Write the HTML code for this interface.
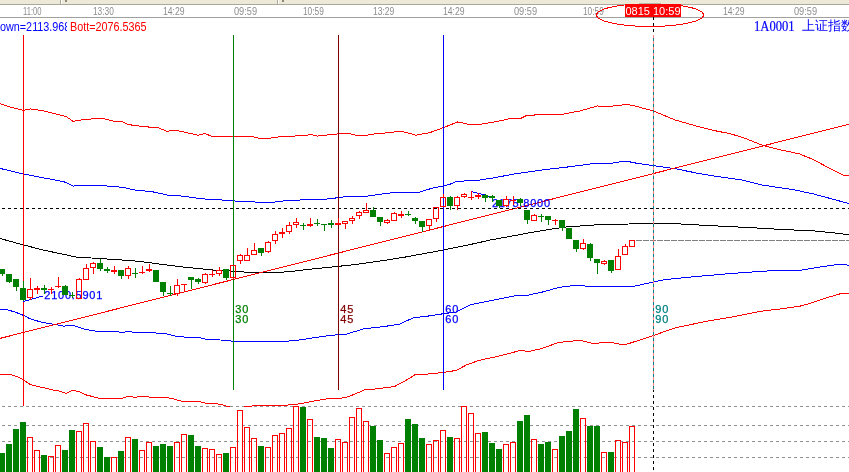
<!DOCTYPE html><html><head><meta charset="utf-8"><title>chart</title><style>
html,body{margin:0;padding:0;background:#fff;}
body{width:849px;height:472px;overflow:hidden;position:relative;font-family:"Liberation Sans","Noto Sans CJK SC",sans-serif;}
#top{position:absolute;left:0;top:0;width:849px;height:4px;background:#ece9d8;border-bottom:1px solid #aca899;}
#top i{position:absolute;top:0;height:4px;width:1px;background:#aca899;border-right:1px solid #fff;}
#top u{position:absolute;top:0;height:2px;width:2px;background:#8a8778;}
#axis{position:absolute;left:0;top:5px;width:849px;height:12px;border-bottom:1px solid #a0a0a0;}
#axis span{position:absolute;top:1px;font-size:10px;line-height:12px;color:#8c8c8c;white-space:nowrap;transform:scaleX(0.9);transform-origin:0 0;}
#cur{position:absolute;left:625px;top:4px;width:56px;height:12px;padding-top:1px;background:#ff0000;color:#fff;font-size:11px;line-height:13px;overflow:hidden;text-align:center;white-space:nowrap;}
#t1{position:absolute;left:0;top:20px;width:67px;height:14px;overflow:hidden;color:#0000ff;font-size:12px;line-height:14px;white-space:nowrap;}
#t1 b,#t2 b{display:inline-block;font-weight:normal;transform:scaleX(0.9);transform-origin:0 0;}
#t2{position:absolute;left:70px;top:20px;color:#ff0000;font-size:12px;line-height:14px;white-space:nowrap;}
#name{position:absolute;left:753px;top:19px;color:#0000ff;font-size:13px;line-height:14px;white-space:nowrap;font-family:"Liberation Serif","WenQuanYi Zen Hei",serif;}
.lb{position:absolute;font-size:11px;line-height:10px;white-space:nowrap;letter-spacing:0.9px;-webkit-text-stroke:0.25px currentColor;}
.pl{position:absolute;font-size:12px;line-height:12px;color:#0000ff;white-space:nowrap;}
svg{position:absolute;left:0;top:0;}
</style></head><body>
<div id="top"><i style="left:60px"></i><i style="left:277px"></i><u style="left:65px"></u><u style="left:282px"></u></div>
<div id="axis">
<span style="left:23px;transform:scaleX(0.76)">11:00</span>
<span style="left:93px;transform:scaleX(0.83)">13:30</span>
<span style="left:163px;transform:scaleX(0.86)">14:29</span>
<span style="left:234px;transform:scaleX(0.92)">09:59</span>
<span style="left:303px;transform:scaleX(0.83)">10:59</span>
<span style="left:373px;transform:scaleX(0.85)">13:29</span>
<span style="left:443px;transform:scaleX(0.86)">14:29</span>
<span style="left:514px;transform:scaleX(0.92)">09:59</span>
<span style="left:583px;transform:scaleX(0.83)">10:59</span>
<span style="left:723px;transform:scaleX(0.86)">14:29</span>
<span style="left:794px;transform:scaleX(0.92)">09:59</span>
</div>
<div id="t1"><b>own=2113.968</b></div><div id="t2"><b>Bott=2076.5365</b></div>
<div id="name"><span style="position:absolute;left:1px;top:1px;font-size:14px;display:inline-block;transform:scaleX(0.9);transform-origin:0 0;-webkit-text-stroke:0.2px #0000ff">1A0001</span><span style="position:absolute;left:49px;top:0">上证指数</span></div>
<svg width="849" height="472" viewBox="0 0 849 472" shape-rendering="crispEdges">
<line x1="2" y1="406.5" x2="849" y2="406.5" stroke="#909090" stroke-dasharray="3 3"/>
<line x1="2" y1="425.5" x2="849" y2="425.5" stroke="#909090" stroke-dasharray="3 3"/>
<line x1="2" y1="441.5" x2="849" y2="441.5" stroke="#909090" stroke-dasharray="3 3"/>
<line x1="2" y1="457.5" x2="849" y2="457.5" stroke="#909090" stroke-dasharray="3 3"/>
<defs><clipPath id="mc"><rect x="0" y="18" width="849" height="389"/></clipPath></defs>
<g clip-path="url(#mc)" fill="none" stroke-width="1">
<polyline points="0.0,103.7 11.4,107.5 23.6,110.3 30.5,109.0 40.7,110.3 66.0,116.4 73.0,121.3 84.0,119.5 101.7,118.2 113.0,121.0 122.0,121.3 128.4,124.6 146.0,126.9 157.6,127.4 166.5,131.2 176.7,130.4 188.0,133.0 198.3,135.2 205.0,133.6 211.4,136.1 233.0,136.3 250.8,136.3 259.7,138.4 268.6,138.4 276.3,137.1 301.7,135.6 311.8,134.6 316.9,136.1 338.5,133.8 346.2,133.0 356.3,135.3 367.8,135.1 378.0,133.3 389.4,132.8 400.8,131.0 412.0,134.1 415.8,135.2 429.8,132.6 443.8,127.5 457.8,121.9 467.9,124.2 480.6,124.2 498.4,121.2 508.6,118.9 521.3,118.1 526.4,115.6 544.2,114.3 563.2,114.1 579.8,111.0 597.6,105.9 602.6,106.9 620.0,105.4 625.5,104.2 633.8,105.6 653.6,111.1 675.1,120.0 697.2,126.3 716.4,131.0 730.2,133.7 744.0,137.9 763.3,145.6 782.6,150.3 799.1,153.8 812.9,159.4 829.4,168.2 843.2,175.1 849.0,175.9" stroke="#ff0000"/>
<polyline points="0.0,374.4 10.0,374.4 17.5,376.9 23.7,379.9 30.0,384.4 40.0,386.9 52.4,389.9 59.9,391.1 66.2,393.6 72.4,390.4 78.7,391.6 86.1,394.9 99.9,398.4 122.3,398.4 128.6,396.1 134.8,397.4 142.3,396.1 152.3,397.4 166.0,397.4 172.3,398.6 182.3,401.4 199.8,401.6 206.0,403.4 212.0,403.4 222.0,404.4 227.0,406.6 237.0,408.0 247.0,406.6 256.9,405.4 284.4,405.4 299.4,403.9 311.9,401.4 326.9,398.9 344.3,397.9 354.3,394.4 364.3,389.9 374.3,389.1 394.3,386.6 406.8,379.9 415.5,374.4 424.0,374.4 439.0,372.9 443.5,372.4 456.5,370.4 466.4,364.9 478.9,360.4 498.9,356.1 511.4,352.9 520.1,350.4 528.9,351.4 541.4,348.7 558.8,342.4 573.8,340.9 582.6,340.9 593.8,343.7 603.8,342.4 611.3,342.4 621.3,344.4 626.2,344.4 636.0,341.2 653.9,335.4 674.6,328.0 704.9,321.6 732.4,317.0 760.0,311.4 782.0,308.7 801.3,305.9 815.1,301.8 828.9,297.1 841.3,293.5 849.0,293.3" stroke="#ff0000"/>
<polyline points="0.0,168.4 23.6,174.0 45.8,178.3 63.5,181.6 73.7,186.2 76.3,185.4 103.0,185.4 111.8,186.7 123.3,187.2 132.2,189.7 152.5,191.8 167.8,195.1 177.9,195.6 200.0,198.5 210.2,199.6 233.0,200.4 238.1,201.7 253.4,201.7 259.7,202.7 269.9,202.7 283.9,200.9 301.7,199.9 320.0,199.8 334.8,198.2 338.5,197.2 352.5,196.6 367.8,196.1 378.0,194.6 393.2,192.5 412.0,192.4 418.5,192.5 426.5,189.8 434.9,187.6 443.8,186.0 450.1,184.2 457.2,181.2 475.5,180.7 493.3,177.9 513.7,174.1 544.2,169.7 564.5,167.4 595.0,163.4 612.8,163.1 620.0,161.8 626.9,161.3 636.5,163.2 653.6,165.7 675.1,168.7 699.9,173.7 716.4,176.4 741.2,179.8 760.5,184.7 774.3,186.9 793.6,189.7 812.9,193.8 832.2,199.0 849.0,203.6" stroke="#0000ff"/>
<polyline points="0.0,309.5 6.2,309.5 15.0,312.0 23.7,315.5 30.0,318.7 42.4,322.5 53.7,324.2 63.7,326.2 72.4,325.2 84.9,329.2 97.4,331.5 117.4,331.7 121.1,332.5 128.6,331.5 134.8,332.5 152.3,332.7 167.3,334.0 177.3,336.5 189.8,337.5 199.8,337.7 207.2,339.5 212.0,339.5 227.0,340.4 233.2,341.4 284.4,341.4 299.4,340.0 311.9,338.0 329.4,335.5 346.8,334.0 364.3,328.7 384.3,326.5 399.3,324.2 414.2,317.5 424.0,316.7 443.5,313.7 456.5,311.9 471.4,304.5 493.9,300.0 516.4,295.5 528.9,295.0 543.9,291.7 558.8,287.5 573.8,285.5 583.8,285.5 587.5,286.7 631.2,286.7 636.0,285.8 653.9,282.0 663.6,279.8 691.1,277.0 732.4,273.4 768.3,270.9 801.3,270.1 823.4,266.5 841.3,264.0 849.0,265.4" stroke="#0000ff"/>
<polyline points="0.0,238.5 20.0,244.0 43.0,250.0 76.0,257.0 99.0,258.5 130.0,260.5 140.0,261.5 179.5,266.6 212.5,270.0 233.5,271.2 255.0,272.8 270.0,272.8 278.0,272.6 293.0,271.2 308.0,269.4 322.0,268.0 338.7,266.3 355.7,264.5 369.8,262.4 385.7,260.2 405.0,257.1 424.5,253.5 443.5,250.0 475.0,243.5 490.6,239.9 512.5,236.0 530.0,232.7 552.0,229.0 566.4,227.0 579.8,226.0 593.8,225.0 628.7,224.0 636.0,223.8 653.9,223.3 677.3,223.8 707.6,225.5 746.2,227.4 779.3,229.3 815.1,231.0 834.4,232.9 849.0,234.8" stroke="#000"/>
<line x1="0" y1="338.4" x2="849" y2="124.2" stroke="#ff0000"/>
</g>
<line x1="2" y1="208.5" x2="849" y2="208.5" stroke="#000" stroke-dasharray="3 3"/>
<line x1="636" y1="240.5" x2="849" y2="240.5" stroke="#808080" stroke-dasharray="6 1"/>
<line x1="23.5" y1="35" x2="23.5" y2="406" stroke="#ff0000"/>
<line x1="233.5" y1="35" x2="233.5" y2="390" stroke="#008000"/>
<line x1="338.5" y1="35" x2="338.5" y2="390" stroke="#800000"/>
<line x1="443.5" y1="35" x2="443.5" y2="390" stroke="#0000ff"/>
<line x1="653.5" y1="17" x2="653.5" y2="472" stroke="#000" stroke-dasharray="3 3"/>
<line x1="653.5" y1="35" x2="653.5" y2="390" stroke="#008080"/>
<line x1="653.5" y1="35" x2="653.5" y2="390" stroke="#ff8080" stroke-dasharray="3 3"/>
<text x="44.3" y="299" font-size="11" letter-spacing="0.75" fill="#0000ff" stroke="#0000ff" stroke-width="0.25" font-family="Liberation Sans, sans-serif">2100.5901</text>
<text x="492" y="207" font-size="11" letter-spacing="0.75" fill="#0000ff" stroke="#0000ff" stroke-width="0.25" font-family="Liberation Sans, sans-serif">2175.8000</text>
<line x1="23.5" y1="301.5" x2="43" y2="296" stroke="#0000ff"/>
<line x1="471.5" y1="191.5" x2="492" y2="197" stroke="#0000ff"/>
<rect x="2" y="269" width="1" height="7" fill="#008000"/>
<rect x="-1" y="269" width="6" height="5" fill="#008000"/>
<rect x="9" y="274" width="1" height="9" fill="#008000"/>
<rect x="6" y="274" width="6" height="8" fill="#008000"/>
<rect x="16" y="279" width="1" height="12" fill="#008000"/>
<rect x="13" y="279" width="6" height="8" fill="#008000"/>
<rect x="23" y="281" width="1" height="20" fill="#008000"/>
<rect x="20" y="288" width="6" height="12" fill="#008000"/>
<rect x="30" y="278" width="1" height="11" fill="#ff0000"/>
<rect x="30" y="298" width="1" height="2" fill="#ff0000"/>
<rect x="27.5" y="289.5" width="5" height="8" fill="none" stroke="#ff0000"/>
<rect x="37" y="286" width="1" height="8" fill="#ff0000"/>
<rect x="34" y="288" width="6" height="2" fill="#ff0000"/>
<rect x="44" y="285" width="1" height="9" fill="#008000"/>
<rect x="41" y="288" width="6" height="2" fill="#008000"/>
<rect x="51" y="287" width="1" height="7" fill="#ff0000"/>
<rect x="48" y="289" width="6" height="1" fill="#ff0000"/>
<rect x="58" y="277" width="1" height="11" fill="#ff0000"/>
<rect x="55" y="286" width="6" height="1" fill="#ff0000"/>
<rect x="65" y="285" width="1" height="10" fill="#008000"/>
<rect x="62" y="286" width="6" height="9" fill="#008000"/>
<rect x="72" y="292" width="1" height="6" fill="#008000"/>
<rect x="69" y="295" width="6" height="1" fill="#008000"/>
<rect x="79" y="278" width="1" height="1" fill="#ff0000"/>
<rect x="76.5" y="279.5" width="5" height="19" fill="none" stroke="#ff0000"/>
<rect x="86" y="264" width="1" height="4" fill="#ff0000"/>
<rect x="83.5" y="268.5" width="5" height="11" fill="none" stroke="#ff0000"/>
<rect x="93" y="262" width="1" height="1" fill="#ff0000"/>
<rect x="93" y="268" width="1" height="6" fill="#ff0000"/>
<rect x="90.5" y="263.5" width="5" height="4" fill="none" stroke="#ff0000"/>
<rect x="100" y="259" width="1" height="12" fill="#008000"/>
<rect x="97" y="263" width="6" height="6" fill="#008000"/>
<rect x="107" y="267" width="1" height="6" fill="#008000"/>
<rect x="104" y="269" width="6" height="2" fill="#008000"/>
<rect x="114" y="266" width="1" height="8" fill="#ff0000"/>
<rect x="111" y="270" width="6" height="2" fill="#ff0000"/>
<rect x="121" y="270" width="1" height="9" fill="#008000"/>
<rect x="118" y="270" width="6" height="6" fill="#008000"/>
<rect x="128" y="266" width="1" height="2" fill="#ff0000"/>
<rect x="128" y="276" width="1" height="3" fill="#ff0000"/>
<rect x="125.5" y="268.5" width="5" height="7" fill="none" stroke="#ff0000"/>
<rect x="135" y="268" width="1" height="10" fill="#008000"/>
<rect x="132" y="273" width="6" height="1" fill="#008000"/>
<rect x="142" y="266" width="1" height="8" fill="#ff0000"/>
<rect x="139" y="272" width="6" height="1" fill="#ff0000"/>
<rect x="149" y="264" width="1" height="8" fill="#ff0000"/>
<rect x="146" y="269" width="6" height="2" fill="#ff0000"/>
<rect x="156" y="270" width="1" height="12" fill="#008000"/>
<rect x="153" y="270" width="6" height="12" fill="#008000"/>
<rect x="163" y="282" width="1" height="14" fill="#008000"/>
<rect x="160" y="282" width="6" height="10" fill="#008000"/>
<rect x="170" y="286" width="1" height="10" fill="#008000"/>
<rect x="167" y="293" width="6" height="1" fill="#008000"/>
<rect x="177" y="279" width="1" height="6" fill="#ff0000"/>
<rect x="177" y="294" width="1" height="2" fill="#ff0000"/>
<rect x="174.5" y="285.5" width="5" height="8" fill="none" stroke="#ff0000"/>
<rect x="184" y="284" width="1" height="8" fill="#ff0000"/>
<rect x="181" y="284" width="6" height="1" fill="#ff0000"/>
<rect x="191" y="277" width="1" height="12" fill="#008000"/>
<rect x="188" y="277" width="6" height="3" fill="#008000"/>
<rect x="198" y="278" width="1" height="6" fill="#008000"/>
<rect x="195" y="279" width="6" height="3" fill="#008000"/>
<rect x="205" y="273" width="1" height="1" fill="#ff0000"/>
<rect x="205" y="283" width="1" height="1" fill="#ff0000"/>
<rect x="202.5" y="274.5" width="5" height="8" fill="none" stroke="#ff0000"/>
<rect x="212" y="270" width="1" height="7" fill="#ff0000"/>
<rect x="209" y="274" width="6" height="1" fill="#ff0000"/>
<rect x="219" y="267" width="1" height="3" fill="#ff0000"/>
<rect x="219" y="274" width="1" height="2" fill="#ff0000"/>
<rect x="216.5" y="270.5" width="5" height="3" fill="none" stroke="#ff0000"/>
<rect x="226" y="269" width="1" height="11" fill="#008000"/>
<rect x="223" y="269" width="6" height="9" fill="#008000"/>
<rect x="233" y="278" width="1" height="1" fill="#ff0000"/>
<rect x="230.5" y="265.5" width="5" height="12" fill="none" stroke="#ff0000"/>
<rect x="240" y="254" width="1" height="1" fill="#ff0000"/>
<rect x="240" y="261" width="1" height="3" fill="#ff0000"/>
<rect x="237.5" y="255.5" width="5" height="5" fill="none" stroke="#ff0000"/>
<rect x="247" y="248" width="1" height="7" fill="#ff0000"/>
<rect x="244.5" y="255.5" width="5" height="5" fill="none" stroke="#ff0000"/>
<rect x="254" y="243" width="1" height="7" fill="#ff0000"/>
<rect x="251.5" y="250.5" width="5" height="4" fill="none" stroke="#ff0000"/>
<rect x="261" y="248" width="1" height="8" fill="#008000"/>
<rect x="258" y="248" width="6" height="5" fill="#008000"/>
<rect x="268" y="241" width="1" height="1" fill="#ff0000"/>
<rect x="268" y="252" width="1" height="1" fill="#ff0000"/>
<rect x="265.5" y="242.5" width="5" height="9" fill="none" stroke="#ff0000"/>
<rect x="275" y="231" width="1" height="3" fill="#ff0000"/>
<rect x="275" y="241" width="1" height="3" fill="#ff0000"/>
<rect x="272.5" y="234.5" width="5" height="6" fill="none" stroke="#ff0000"/>
<rect x="282" y="228" width="1" height="10" fill="#ff0000"/>
<rect x="279" y="232" width="6" height="2" fill="#ff0000"/>
<rect x="289" y="222" width="1" height="3" fill="#ff0000"/>
<rect x="289" y="232" width="1" height="2" fill="#ff0000"/>
<rect x="286.5" y="225.5" width="5" height="6" fill="none" stroke="#ff0000"/>
<rect x="296" y="218" width="1" height="4" fill="#ff0000"/>
<rect x="296" y="225" width="1" height="3" fill="#ff0000"/>
<rect x="293.5" y="222.5" width="5" height="2" fill="none" stroke="#ff0000"/>
<rect x="303" y="223" width="1" height="7" fill="#008000"/>
<rect x="300" y="225" width="6" height="1" fill="#008000"/>
<rect x="310" y="218" width="1" height="9" fill="#ff0000"/>
<rect x="307" y="224" width="6" height="2" fill="#ff0000"/>
<rect x="317" y="219" width="1" height="7" fill="#008000"/>
<rect x="314" y="223" width="6" height="1" fill="#008000"/>
<rect x="324" y="224" width="1" height="7" fill="#008000"/>
<rect x="321" y="224" width="6" height="1" fill="#008000"/>
<rect x="331" y="220" width="1" height="8" fill="#008000"/>
<rect x="328" y="223" width="6" height="2" fill="#008000"/>
<rect x="338" y="218" width="1" height="7" fill="#ff0000"/>
<rect x="335" y="223" width="6" height="2" fill="#ff0000"/>
<rect x="345" y="224" width="1" height="5" fill="#ff0000"/>
<rect x="342.5" y="221.5" width="5" height="2" fill="none" stroke="#ff0000"/>
<rect x="352" y="216" width="1" height="2" fill="#ff0000"/>
<rect x="352" y="221" width="1" height="3" fill="#ff0000"/>
<rect x="349.5" y="218.5" width="5" height="2" fill="none" stroke="#ff0000"/>
<rect x="359" y="211" width="1" height="1" fill="#ff0000"/>
<rect x="359" y="216" width="1" height="3" fill="#ff0000"/>
<rect x="356.5" y="212.5" width="5" height="3" fill="none" stroke="#ff0000"/>
<rect x="366" y="203" width="1" height="7" fill="#ff0000"/>
<rect x="363.5" y="210.5" width="5" height="2" fill="none" stroke="#ff0000"/>
<rect x="373" y="207" width="1" height="10" fill="#008000"/>
<rect x="370" y="210" width="6" height="7" fill="#008000"/>
<rect x="380" y="217" width="1" height="9" fill="#008000"/>
<rect x="377" y="217" width="6" height="5" fill="#008000"/>
<rect x="387" y="219" width="1" height="1" fill="#ff0000"/>
<rect x="387" y="223" width="1" height="1" fill="#ff0000"/>
<rect x="384.5" y="220.5" width="5" height="2" fill="none" stroke="#ff0000"/>
<rect x="394" y="212" width="1" height="1" fill="#ff0000"/>
<rect x="391.5" y="213.5" width="5" height="7" fill="none" stroke="#ff0000"/>
<rect x="401" y="211" width="1" height="7" fill="#ff0000"/>
<rect x="398" y="214" width="6" height="2" fill="#ff0000"/>
<rect x="408" y="211" width="1" height="5" fill="#008000"/>
<rect x="405" y="214" width="6" height="1" fill="#008000"/>
<rect x="415" y="217" width="1" height="7" fill="#008000"/>
<rect x="412" y="218" width="6" height="3" fill="#008000"/>
<rect x="422" y="221" width="1" height="11" fill="#008000"/>
<rect x="419" y="221" width="6" height="6" fill="#008000"/>
<rect x="429" y="226" width="1" height="4" fill="#ff0000"/>
<rect x="426.5" y="219.5" width="5" height="6" fill="none" stroke="#ff0000"/>
<rect x="436" y="219" width="1" height="3" fill="#ff0000"/>
<rect x="433.5" y="207.5" width="5" height="11" fill="none" stroke="#ff0000"/>
<rect x="443" y="194" width="1" height="3" fill="#ff0000"/>
<rect x="440.5" y="197.5" width="5" height="9" fill="none" stroke="#ff0000"/>
<rect x="450" y="196" width="1" height="14" fill="#008000"/>
<rect x="447" y="197" width="6" height="9" fill="#008000"/>
<rect x="457" y="196" width="1" height="1" fill="#ff0000"/>
<rect x="457" y="206" width="1" height="4" fill="#ff0000"/>
<rect x="454.5" y="197.5" width="5" height="8" fill="none" stroke="#ff0000"/>
<rect x="464" y="193" width="1" height="1" fill="#ff0000"/>
<rect x="464" y="197" width="1" height="1" fill="#ff0000"/>
<rect x="461.5" y="194.5" width="5" height="2" fill="none" stroke="#ff0000"/>
<rect x="471" y="191" width="1" height="9" fill="#ff0000"/>
<rect x="468" y="197" width="6" height="1" fill="#ff0000"/>
<rect x="478" y="193" width="1" height="6" fill="#ff0000"/>
<rect x="475" y="195" width="6" height="2" fill="#ff0000"/>
<rect x="485" y="194" width="1" height="8" fill="#008000"/>
<rect x="482" y="195" width="6" height="3" fill="#008000"/>
<rect x="492" y="195" width="1" height="7" fill="#008000"/>
<rect x="489" y="196" width="6" height="2" fill="#008000"/>
<rect x="499" y="200" width="1" height="8" fill="#008000"/>
<rect x="496" y="200" width="6" height="6" fill="#008000"/>
<rect x="506" y="196" width="1" height="3" fill="#ff0000"/>
<rect x="506" y="206" width="1" height="1" fill="#ff0000"/>
<rect x="503.5" y="199.5" width="5" height="6" fill="none" stroke="#ff0000"/>
<rect x="513" y="196" width="1" height="9" fill="#ff0000"/>
<rect x="510" y="200" width="6" height="1" fill="#ff0000"/>
<rect x="520" y="198" width="1" height="8" fill="#008000"/>
<rect x="517" y="199" width="6" height="4" fill="#008000"/>
<rect x="527" y="210" width="1" height="14" fill="#008000"/>
<rect x="524" y="210" width="6" height="10" fill="#008000"/>
<rect x="534" y="214" width="1" height="1" fill="#ff0000"/>
<rect x="531.5" y="215.5" width="5" height="5" fill="none" stroke="#ff0000"/>
<rect x="541" y="214" width="1" height="8" fill="#008000"/>
<rect x="538" y="216" width="6" height="1" fill="#008000"/>
<rect x="548" y="216" width="1" height="9" fill="#008000"/>
<rect x="545" y="216" width="6" height="4" fill="#008000"/>
<rect x="555" y="219" width="1" height="6" fill="#ff0000"/>
<rect x="552" y="220" width="6" height="1" fill="#ff0000"/>
<rect x="562" y="220" width="1" height="11" fill="#008000"/>
<rect x="559" y="220" width="6" height="8" fill="#008000"/>
<rect x="569" y="228" width="1" height="11" fill="#008000"/>
<rect x="566" y="228" width="6" height="11" fill="#008000"/>
<rect x="576" y="240" width="1" height="12" fill="#008000"/>
<rect x="573" y="240" width="6" height="9" fill="#008000"/>
<rect x="583" y="239" width="1" height="4" fill="#ff0000"/>
<rect x="583" y="249" width="1" height="1" fill="#ff0000"/>
<rect x="580.5" y="243.5" width="5" height="5" fill="none" stroke="#ff0000"/>
<rect x="590" y="243" width="1" height="18" fill="#008000"/>
<rect x="587" y="244" width="6" height="14" fill="#008000"/>
<rect x="597" y="259" width="1" height="15" fill="#008000"/>
<rect x="594" y="259" width="6" height="4" fill="#008000"/>
<rect x="604" y="260" width="1" height="1" fill="#ff0000"/>
<rect x="604" y="264" width="1" height="1" fill="#ff0000"/>
<rect x="601.5" y="261.5" width="5" height="2" fill="none" stroke="#ff0000"/>
<rect x="611" y="260" width="1" height="13" fill="#008000"/>
<rect x="608" y="260" width="6" height="11" fill="#008000"/>
<rect x="618" y="249" width="1" height="7" fill="#ff0000"/>
<rect x="615.5" y="256.5" width="5" height="13" fill="none" stroke="#ff0000"/>
<rect x="625" y="244" width="1" height="2" fill="#ff0000"/>
<rect x="622.5" y="246.5" width="5" height="8" fill="none" stroke="#ff0000"/>
<rect x="629.5" y="240.5" width="5" height="6" fill="none" stroke="#ff0000"/>
<rect x="-1" y="453" width="6" height="19" fill="#008000"/>
<rect x="6" y="444" width="6" height="28" fill="#008000"/>
<rect x="13" y="429" width="6" height="43" fill="#008000"/>
<rect x="20" y="422" width="6" height="50" fill="#008000"/>
<rect x="27.5" y="437.5" width="5" height="38" fill="none" stroke="#ff0000"/>
<rect x="34.5" y="450.5" width="5" height="25" fill="none" stroke="#ff0000"/>
<rect x="41" y="455" width="6" height="17" fill="#008000"/>
<rect x="48.5" y="456.5" width="5" height="19" fill="none" stroke="#ff0000"/>
<rect x="55.5" y="445.5" width="5" height="30" fill="none" stroke="#ff0000"/>
<rect x="62" y="450" width="6" height="22" fill="#008000"/>
<rect x="69" y="430" width="6" height="42" fill="#008000"/>
<rect x="76.5" y="431.5" width="5" height="44" fill="none" stroke="#ff0000"/>
<rect x="83.5" y="423.5" width="5" height="52" fill="none" stroke="#ff0000"/>
<rect x="90.5" y="441.5" width="5" height="34" fill="none" stroke="#ff0000"/>
<rect x="97" y="447" width="6" height="25" fill="#008000"/>
<rect x="104" y="457" width="6" height="15" fill="#008000"/>
<rect x="111.5" y="457.5" width="5" height="18" fill="none" stroke="#ff0000"/>
<rect x="118" y="451" width="6" height="21" fill="#008000"/>
<rect x="125.5" y="437.5" width="5" height="38" fill="none" stroke="#ff0000"/>
<rect x="132" y="439" width="6" height="33" fill="#008000"/>
<rect x="139.5" y="450.5" width="5" height="25" fill="none" stroke="#ff0000"/>
<rect x="146.5" y="442.5" width="5" height="33" fill="none" stroke="#ff0000"/>
<rect x="153" y="446" width="6" height="26" fill="#008000"/>
<rect x="160" y="444" width="6" height="28" fill="#008000"/>
<rect x="167" y="446" width="6" height="26" fill="#008000"/>
<rect x="174.5" y="442.5" width="5" height="33" fill="none" stroke="#ff0000"/>
<rect x="181.5" y="434.5" width="5" height="41" fill="none" stroke="#ff0000"/>
<rect x="188" y="435" width="6" height="37" fill="#008000"/>
<rect x="195" y="446" width="6" height="26" fill="#008000"/>
<rect x="202.5" y="448.5" width="5" height="27" fill="none" stroke="#ff0000"/>
<rect x="209.5" y="449.5" width="5" height="26" fill="none" stroke="#ff0000"/>
<rect x="216.5" y="454.5" width="5" height="21" fill="none" stroke="#ff0000"/>
<rect x="223" y="453" width="6" height="19" fill="#008000"/>
<rect x="230.5" y="447.5" width="5" height="28" fill="none" stroke="#ff0000"/>
<rect x="237.5" y="410.5" width="5" height="65" fill="none" stroke="#ff0000"/>
<rect x="244.5" y="427.5" width="5" height="48" fill="none" stroke="#ff0000"/>
<rect x="251.5" y="438.5" width="5" height="37" fill="none" stroke="#ff0000"/>
<rect x="258" y="446" width="6" height="26" fill="#008000"/>
<rect x="265.5" y="447.5" width="5" height="28" fill="none" stroke="#ff0000"/>
<rect x="272.5" y="435.5" width="5" height="40" fill="none" stroke="#ff0000"/>
<rect x="279.5" y="433.5" width="5" height="42" fill="none" stroke="#ff0000"/>
<rect x="286.5" y="428.5" width="5" height="47" fill="none" stroke="#ff0000"/>
<rect x="293.5" y="406.5" width="5" height="69" fill="none" stroke="#ff0000"/>
<rect x="300" y="407" width="6" height="65" fill="#008000"/>
<rect x="307.5" y="419.5" width="5" height="56" fill="none" stroke="#ff0000"/>
<rect x="314" y="437" width="6" height="35" fill="#008000"/>
<rect x="321" y="438" width="6" height="34" fill="#008000"/>
<rect x="328" y="448" width="6" height="24" fill="#008000"/>
<rect x="335.5" y="439.5" width="5" height="36" fill="none" stroke="#ff0000"/>
<rect x="342.5" y="442.5" width="5" height="33" fill="none" stroke="#ff0000"/>
<rect x="349.5" y="417.5" width="5" height="58" fill="none" stroke="#ff0000"/>
<rect x="356.5" y="408.5" width="5" height="67" fill="none" stroke="#ff0000"/>
<rect x="363.5" y="421.5" width="5" height="54" fill="none" stroke="#ff0000"/>
<rect x="370" y="426" width="6" height="46" fill="#008000"/>
<rect x="377" y="440" width="6" height="32" fill="#008000"/>
<rect x="384.5" y="453.5" width="5" height="22" fill="none" stroke="#ff0000"/>
<rect x="391.5" y="447.5" width="5" height="28" fill="none" stroke="#ff0000"/>
<rect x="398.5" y="443.5" width="5" height="32" fill="none" stroke="#ff0000"/>
<rect x="405" y="419" width="6" height="53" fill="#008000"/>
<rect x="412" y="424" width="6" height="48" fill="#008000"/>
<rect x="419" y="438" width="6" height="34" fill="#008000"/>
<rect x="426.5" y="444.5" width="5" height="31" fill="none" stroke="#ff0000"/>
<rect x="433.5" y="440.5" width="5" height="35" fill="none" stroke="#ff0000"/>
<rect x="440.5" y="430.5" width="5" height="45" fill="none" stroke="#ff0000"/>
<rect x="447" y="437" width="6" height="35" fill="#008000"/>
<rect x="454.5" y="438.5" width="5" height="37" fill="none" stroke="#ff0000"/>
<rect x="461.5" y="406.5" width="5" height="69" fill="none" stroke="#ff0000"/>
<rect x="468.5" y="413.5" width="5" height="62" fill="none" stroke="#ff0000"/>
<rect x="475.5" y="433.5" width="5" height="42" fill="none" stroke="#ff0000"/>
<rect x="482" y="432" width="6" height="40" fill="#008000"/>
<rect x="489" y="443" width="6" height="29" fill="#008000"/>
<rect x="496" y="449" width="6" height="23" fill="#008000"/>
<rect x="503.5" y="444.5" width="5" height="31" fill="none" stroke="#ff0000"/>
<rect x="510.5" y="442.5" width="5" height="33" fill="none" stroke="#ff0000"/>
<rect x="517" y="421" width="6" height="51" fill="#008000"/>
<rect x="524" y="415" width="6" height="57" fill="#008000"/>
<rect x="531.5" y="439.5" width="5" height="36" fill="none" stroke="#ff0000"/>
<rect x="538" y="444" width="6" height="28" fill="#008000"/>
<rect x="545" y="442" width="6" height="30" fill="#008000"/>
<rect x="552.5" y="449.5" width="5" height="26" fill="none" stroke="#ff0000"/>
<rect x="559" y="436" width="6" height="36" fill="#008000"/>
<rect x="566" y="431" width="6" height="41" fill="#008000"/>
<rect x="573" y="409" width="6" height="63" fill="#008000"/>
<rect x="580.5" y="418.5" width="5" height="57" fill="none" stroke="#ff0000"/>
<rect x="587" y="426" width="6" height="46" fill="#008000"/>
<rect x="594" y="426" width="6" height="46" fill="#008000"/>
<rect x="601.5" y="452.5" width="5" height="23" fill="none" stroke="#ff0000"/>
<rect x="608" y="452" width="6" height="20" fill="#008000"/>
<rect x="615.5" y="440.5" width="5" height="35" fill="none" stroke="#ff0000"/>
<rect x="622.5" y="442.5" width="5" height="33" fill="none" stroke="#ff0000"/>
<rect x="629.5" y="426.5" width="5" height="49" fill="none" stroke="#ff0000"/>
</svg>
<svg width="849" height="472" viewBox="0 0 849 472" shape-rendering="crispEdges"><defs><clipPath id="ec"><rect x="590" y="5" width="130" height="30"/></clipPath></defs><ellipse cx="650" cy="15" rx="53.5" ry="11.5" fill="none" stroke="#ff0000" stroke-width="1" clip-path="url(#ec)"/><rect x="639" y="3" width="22" height="1" fill="#b9b6a6"/></svg>
<div id="cur">0815 10:59</div>
<div class="lb" style="left:235.3px;top:304px;color:#008000">30<br>30</div>
<div class="lb" style="left:340.3px;top:304px;color:#800000">45<br>45</div>
<div class="lb" style="left:445.3px;top:304px;color:#0000ff">60<br>60</div>
<div class="lb" style="left:655.3px;top:304px;color:#008080">90<br>90</div>
</body></html>
